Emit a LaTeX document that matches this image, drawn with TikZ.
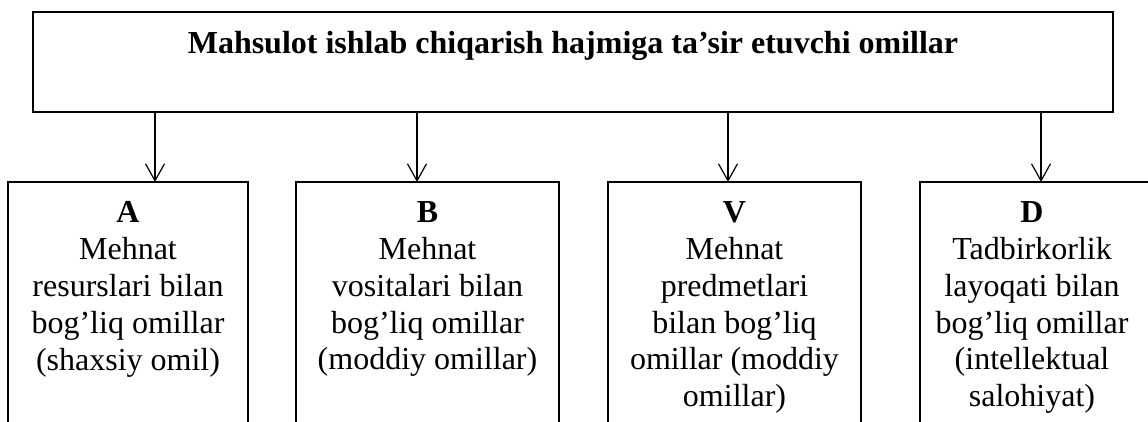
\documentclass[tikz,border=0pt]{standalone}
\usepackage{fontspec}
\setmainfont{Liberation Serif}
\usetikzlibrary{arrows.meta}
\begin{document}
\begin{tikzpicture}[x=1pt,y=-1pt,
  frame/.style={draw, line width=1.2pt, inner sep=0pt, outer sep=0pt, anchor=north west},
  factor text/.style={align=center, font=\fontsize{32}{36.8}\selectfont, inner sep=0pt, anchor=north},
  link/.style={-{Straight Barb[length=17pt,width=19pt]}, line width=1.2pt}]
\useasboundingbox (0,0) rectangle (1148,421);
\clip (0,0) rectangle (1148,421);

% heading box
\node[frame, minimum width=1080pt, minimum height=100pt] (top) at (33,12) {};
\node[font=\fontsize{32}{36.8}\selectfont\bfseries, inner sep=0pt, anchor=base] (title) at (573,53)
  {Mahsulot ishlab chiqarish hajmiga ta’sir etuvchi omillar};

% factor boxes (open at the lower edge)
\node[frame, minimum width=240pt, minimum height=260pt] (A) at (8,182) {};
\node[frame, minimum width=263pt, minimum height=260pt] (B) at (296,182) {};
\node[frame, minimum width=253pt, minimum height=260pt] (V) at (608,182) {};
\node[frame, minimum width=240pt, minimum height=260pt] (D) at (920,182) {};

\node[factor text] (tA) at (128,201.5) {\textbf{A}\\Mehnat\\resurslari bilan\\bog’liq omillar\\(shaxsiy omil)};
\node[factor text] (tB) at (427.5,201.5) {\textbf{B}\\Mehnat\\vositalari bilan\\bog’liq omillar\\(moddiy omillar)};
\node[factor text] (tV) at (734.5,201.5) {\textbf{V}\\Mehnat\\predmetlari\\bilan bog’liq\\omillar (moddiy\\omillar)};
\node[factor text] (tD) at (1032,201.5) {\textbf{D}\\Tadbirkorlik\\layoqati bilan\\bog’liq omillar\\(intellektual\\salohiyat)};

% arrows from the heading to each factor
\coordinate (xa) at (155,0);
\coordinate (xb) at (417,0);
\coordinate (xv) at (728,0);
\coordinate (xd) at (1041,0);
\draw[link] (top.south -| xa) -- (A.north -| xa);
\draw[link] (top.south -| xb) -- (B.north -| xb);
\draw[link] (top.south -| xv) -- (V.north -| xv);
\draw[link] (top.south -| xd) -- (D.north -| xd);
\end{tikzpicture}
\end{document}
